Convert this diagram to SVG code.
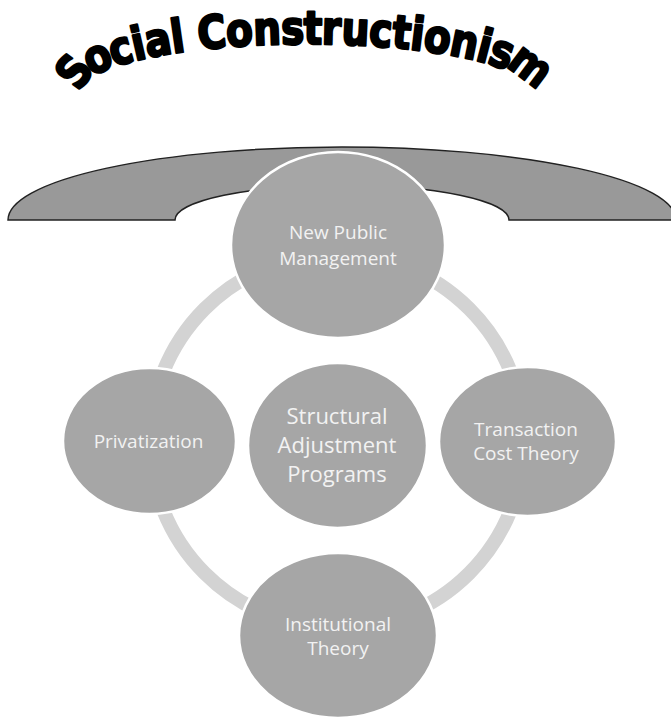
<svg xmlns="http://www.w3.org/2000/svg" width="671" height="719" viewBox="0 0 671 719">
<style>
.node{fill:#a6a6a6;stroke:#ffffff;stroke-width:2.5}
.lbl{font-family:"Open Sans","Liberation Sans",sans-serif;fill:#f2f2f2;text-anchor:middle}
.s19{font-size:19px}
.s22{font-size:22px}
.title{font-family:"DejaVu Sans","Liberation Sans",sans-serif;font-weight:bold;font-size:46px;fill:#000;stroke:#000;stroke-width:2.4;stroke-linejoin:round}
</style>
<defs>
<path id="arcPath" d="M 85.2,97.8 A 235 52 0 1 1 526.8,97.8"/>
</defs>
<rect width="671" height="719" fill="#ffffff"/>
<g id="title">
<text class="title" dominant-baseline="central"><textPath href="#arcPath" startOffset="19" textLength="504" lengthAdjust="spacingAndGlyphs">Social Constructionism</textPath></text>
</g>
<g id="arch">
<path d="M 8,220 A 334 73 0 0 1 676,220 L 509,220 A 167 35 0 0 0 175,220 Z" fill="#999999" stroke="#222222" stroke-width="1.5"/>
</g>
<g id="connectors">
<circle cx="337" cy="441" r="187" fill="none" stroke="#d3d3d3" stroke-width="14"/>
</g>
<g id="node-npm">
<ellipse class="node" cx="338" cy="245" rx="107" ry="93"/>
<text class="lbl s19" x="338" y="239">New Public</text>
<text class="lbl s19" x="338" y="265">Management</text>
</g>
<g id="node-sap">
<ellipse class="node" cx="337.5" cy="445.5" rx="89.5" ry="82.5"/>
<text class="lbl s22" x="337" y="424">Structural</text>
<text class="lbl s22" x="337" y="453">Adjustment</text>
<text class="lbl s22" x="337" y="482">Programs</text>
</g>
<g id="node-privatization">
<ellipse class="node" cx="149.5" cy="441" rx="86.5" ry="73"/>
<text class="lbl s19" x="148.5" y="448">Privatization</text>
</g>
<g id="node-tct">
<ellipse class="node" cx="527.5" cy="441.5" rx="88.5" ry="74.5"/>
<text class="lbl s19" x="526" y="436">Transaction</text>
<text class="lbl s19" x="526" y="460">Cost Theory</text>
</g>
<g id="node-institutional">
<ellipse class="node" cx="338" cy="635.5" rx="99" ry="82.5"/>
<text class="lbl s19" x="338" y="631">Institutional</text>
<text class="lbl s19" x="338" y="655">Theory</text>
</g>
</svg>
